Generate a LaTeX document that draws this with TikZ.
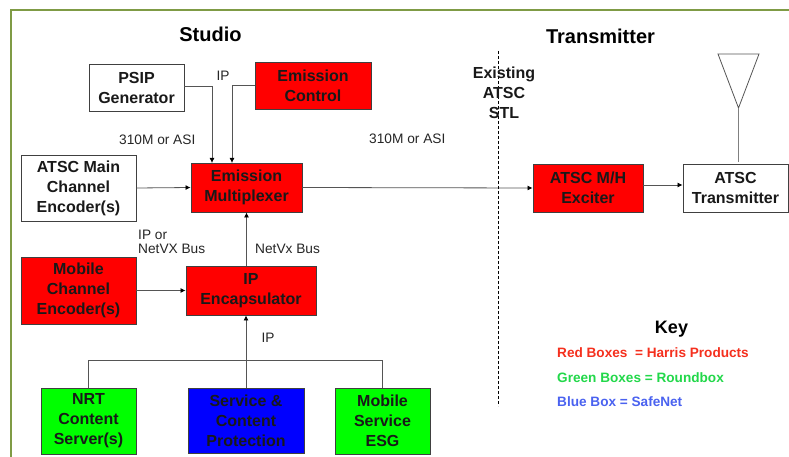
\documentclass[tikz,border=0pt]{standalone}
\usepackage{fontspec}
\setmainfont{Liberation Sans}
\usetikzlibrary{arrows.meta}
\definecolor{framegreen}{HTML}{7F9B45}
\definecolor{keyred}{HTML}{F5301E}
\definecolor{keygreen}{HTML}{22D84A}
\definecolor{keyblue}{HTML}{4A62F0}
\definecolor{linegray}{HTML}{555555}
\tikzset{
  pbox/.style={draw=black!75,line width=0.9pt,align=center,inner sep=0pt,
    font=\fontsize{16}{20}\selectfont\bfseries,text=black!90},
  wbox/.style={pbox,fill=white},
  rbox/.style={pbox,fill=red},
  gbox/.style={pbox,fill=green},
  bbox/.style={pbox,fill=blue},
  lbl/.style={font=\fontsize{13.7}{14.5}\selectfont,text=black!85,align=left,inner sep=0pt},
  head/.style={font=\fontsize{20}{24}\selectfont\bfseries,inner sep=0pt},
  keyitem/.style={font=\fontsize{13.6}{16}\selectfont\bfseries,anchor=west,inner sep=0pt},
  conn/.style={draw=linegray,line width=0.8pt},
  arr/.style={conn,-{Latex[length=5pt,width=5pt,color=black]}}
}
\newcommand{\boxat}[7]{\node[#1,minimum width=#5pt-#3pt,minimum height=#6pt-#4pt] (#2) at ({(#3+#5)/2},{(#4+#6)/2}) {#7};}
\begin{document}
\begin{tikzpicture}[x=1pt,y=-1pt]
\useasboundingbox (0,0) rectangle (789,457);
\fill[white] (0,0) rectangle (789,457);
\draw[framegreen,line width=2pt] (10.5,457) -- (10.5,10.5) -- (789,10.5);

\node[head] (studio) at (210.5,34) {Studio};
\node[head] (transm) at (600.5,36) {Transmitter};

\boxat{wbox}{psip}{89}{64}{184}{111}{PSIP\\Generator}
\boxat{rbox}{ectl}{255}{62}{371}{109}{Emission\\Control}
\boxat{wbox}{main}{21}{155}{136}{221}{ATSC Main\\Channel\\Encoder(s)}
\boxat{rbox}{mux}{191}{163}{302}{212}{Emission\\Multiplexer}
\boxat{rbox}{mobile}{21}{257}{136}{324}{Mobile\\Channel\\Encoder(s)}
\boxat{rbox}{encap}{186}{266}{316}{315}{IP\\Encapsulator}
\boxat{gbox}{nrt}{41}{388}{136}{454}{NRT\\Content\\Server(s)}
\boxat{bbox}{svc}{188}{388}{304}{453}{\baselineskip=22pt Service \&\\Content\\Protection}
\boxat{gbox}{esg}{335}{388}{430}{454}{Mobile\\Service\\ESG}
\boxat{rbox}{exc}{533}{164}{643}{212}{ATSC M/H\\Exciter}
\boxat{wbox}{tx}{683}{164}{788}{212}{ATSC\\Transmitter}

\coordinate (muxa) at (212,163);
\coordinate (muxb) at (232,163);
\coordinate (bus) at (246,360);
\coordinate (apex) at (738.5,108);
\coordinate (mastfoot) at (738.5,162);
\coordinate (stltop) at (498,51);
\coordinate (stlbot) at (498,406);

\draw[arr] ([yshift=1.5pt]psip.east) -| (muxa);
\draw[arr] ([yshift=0pt]ectl.west) -| (muxb);
\draw[arr] (main.east) -- (mux.west);
\draw[arr] (mux.east) -- (exc.west);
\draw[arr] ([yshift=3pt]exc.east) -- ([yshift=3pt]tx.west);
\draw[arr] (mobile.east) -- (encap.west);
\draw[arr] (encap.north -| mux.south) -- (mux.south);
\draw[conn] (nrt.north) |- (bus);
\draw[conn] (esg.north) |- (bus);
\draw[arr] (svc.north) -- (svc.north |- encap.south);

\draw[conn] (718,54) -- (759,54) -- (apex) -- cycle;
\draw[conn,draw=gray] (apex) -- (mastfoot);
\draw[black,line width=0.8pt,dashed,dash pattern=on 3pt off 2pt] (stltop) -- (stlbot);

\node[lbl] (lip) at (223,76) {IP};
\node[lbl,anchor=west] (l310a) at (119,140) {310M or ASI};
\node[lbl,anchor=west] (l310b) at (369,139) {310M or ASI};
\node[lbl,anchor=west] (lnetvx) at (138,242) {IP or\\NetVX Bus};
\node[lbl,anchor=west] (lnetv) at (255,249) {NetVx Bus};
\node[lbl] (lip2) at (268,338) {IP};
\node[pbox,draw=none] (stl) at (504,93) {Existing\\ATSC\\STL};

\node[font=\fontsize{18}{22}\selectfont\bfseries,inner sep=0pt] (key) at (671.5,329) {Key};
\node[keyitem,text=keyred] (kr) at (557,353) {Red Boxes\ \ = Harris Products};
\node[keyitem,text=keygreen] (kg) at (557,378) {Green Boxes = Roundbox};
\node[keyitem,text=keyblue] (kb) at (557,402) {Blue Box = SafeNet};
\end{tikzpicture}
\end{document}
